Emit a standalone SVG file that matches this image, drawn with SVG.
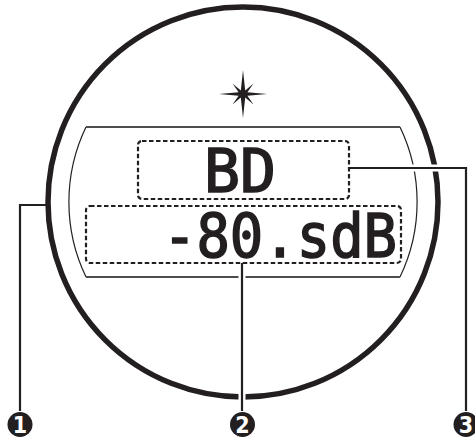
<svg xmlns="http://www.w3.org/2000/svg" width="475" height="439" viewBox="0 0 475 439">
<defs>
<style>
.outer{fill:none;stroke:#231f20;stroke-width:5.5}
.arc{fill:none;stroke:#231f20;stroke-width:1.2}
.hline{fill:none;stroke:#4d4d4f;stroke-width:1.8}
.dash{fill:none;stroke:#231f20;stroke-width:2.2;stroke-dasharray:4.5 2.5}
.lcd{font-family:"DejaVu Sans Mono","Liberation Mono",monospace;font-size:60px;fill:#231f20;stroke:#231f20;stroke-width:1.6}
.halo{fill:none;stroke:#fff;stroke-width:7}
.lead{fill:none;stroke:#231f20;stroke-width:2.2}
.num circle{fill:#231f20}
.num text{font-family:"Liberation Sans Narrow","DejaVu Sans Condensed","Liberation Sans",sans-serif;font-weight:bold;font-size:23px;fill:#fff;text-anchor:middle}
</style>
</defs>
<g id="display">
<circle class="outer" cx="243" cy="202" r="195"/>
<path class="arc" d="M86,127 A173,173 0 0 0 86,277"/>
<path class="arc" d="M400,127 A173,173 0 0 1 400,277"/>
<line class="hline" x1="86" y1="127" x2="400" y2="127"/>
<line class="hline" x1="86" y1="277" x2="400" y2="277"/>
<polygon fill="#231f20" points="243,70 245.2,90.4 253.5,83.5 247.4,92.2 267,94 247.4,95.8 253.5,104.5 245.2,97.6 243,118 240.8,97.6 232.5,104.5 238.6,95.8 219,94 238.6,92.2 232.5,83.5 240.8,90.4"/>
</g>
<g id="connectors">
<path class="halo" d="M242,263 V411"/>
<path class="halo" d="M349,168 H466 V411"/>
<path class="lead" d="M47,205 H20 V411"/>
<path class="lead" d="M242,263 V411"/>
<path class="lead" d="M349,168 H466 V411"/>
</g>
<g id="source-box">
<rect class="dash" x="138" y="141" width="211" height="58" rx="4"/>
<text class="lcd" x="240" y="192" text-anchor="middle" textLength="72" lengthAdjust="spacingAndGlyphs">BD</text>
</g>
<g id="volume-box">
<rect class="dash" x="86" y="206" width="315" height="57" rx="4"/>
<text class="lcd" x="163" y="257" textLength="234" lengthAdjust="spacingAndGlyphs">-80.sdB</text>
</g>
<g id="label-1" class="num"><circle cx="20" cy="424.5" r="12.5"/><text x="20" y="432.5">1</text></g>
<g id="label-2" class="num"><circle cx="242.5" cy="424.5" r="12.5"/><text x="242.5" y="432.5">2</text></g>
<g id="label-3" class="num"><circle cx="466" cy="424.5" r="12.5"/><text x="466" y="432.5">3</text></g>
</svg>
